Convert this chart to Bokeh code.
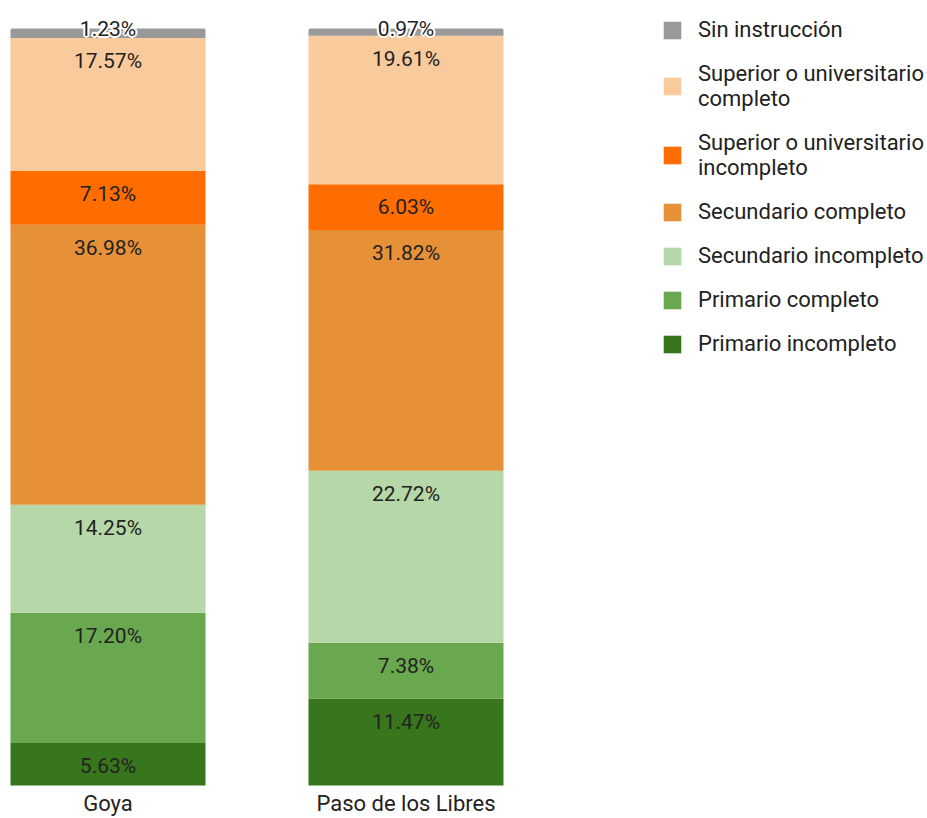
from bokeh.plotting import figure
from bokeh.models import ColumnDataSource, Range1d, Legend, LegendItem
from bokeh.core.properties import value
from bokeh.embed import file_html
from bokeh.resources import INLINE

# ---- data ----
categories = ["Goya", "Paso de los Libres"]
levels = ["Primario incompleto", "Primario completo", "Secundario incompleto",
          "Secundario completo", "Superior o universitario incompleto",
          "Superior o universitario completo", "Sin instrucción"]
legend_labels = ["Primario incompleto", "Primario completo", "Secundario incompleto",
                 "Secundario completo", "Superior o universitario\nincompleto",
                 "Superior o universitario\ncompleto", "Sin instrucción"]
goya = [5.63, 17.20, 14.25, 36.98, 7.13, 17.57, 1.23]
paso = [11.47, 7.38, 22.72, 31.82, 6.03, 19.61, 0.97]
colors = ["#38761D", "#6AA84F", "#B6D7A8", "#E69138", "#FF6D01", "#F9CB9C", "#999999"]

FONT = "Roboto"
TXT = "#222222"
xpos = list(range(len(categories)))

data = {"x": xpos}
for lv, g, pv in zip(levels, goya, paso):
    data[lv] = [g, pv]
src = ColumnDataSource(data)

p = figure(width=927, height=818, output_backend="svg", toolbar_location=None,
           x_range=Range1d(-0.3607, 2.7500), y_range=Range1d(-4.359, 103.699),
           x_axis_location=None, y_axis_location=None, min_border=0,
           outline_line_color=None)
p.grid.visible = False

renderers = p.vbar_stack(levels, x="x", width=0.6544, color=colors, source=src,
                         line_color=None)
# slightly rounded top corners on the topmost segment
renderers[-1].glyph.border_radius = (2, 2, 0, 0)

# segment labels
lx, ly, lt, sx, sy, st = [], [], [], [], [], []
for i, vals in enumerate([goya, paso]):
    cum = 0.0
    for j, v in enumerate(vals):
        cum += v
        if j < len(vals) - 1:
            lx.append(xpos[i]); ly.append(cum); lt.append(f"{v:.2f}%")
        else:
            sx.append(xpos[i]); sy.append(cum); st.append(f"{v:.2f}%")

p.text(x=lx, y=ly, text=lt, y_offset=23, text_align="center", text_baseline="middle",
       text_font=value(FONT), text_font_size="21px", text_color=TXT)

# white halo behind the small top labels
for dx, dy in [(-2, 0), (2, 0), (0, -2), (0, 2), (-1.5, -1.5), (1.5, -1.5),
               (-1.5, 1.5), (1.5, 1.5)]:
    p.text(x=sx, y=sy, text=st, x_offset=dx, y_offset=dy, text_align="center",
           text_baseline="middle", text_font=value(FONT), text_font_size="21px",
           text_color="white")
p.text(x=sx, y=sy, text=st, y_offset=0, text_align="center", text_baseline="middle",
       text_font=value(FONT), text_font_size="21px", text_color=TXT)

# category labels
p.text(x=xpos, y=[0, 0], text=categories, y_offset=18, text_align="center",
       text_baseline="middle", text_font=value(FONT), text_font_size="22px",
       text_color=TXT)

items = [LegendItem(label=lab, renderers=[r]) for lab, r in zip(legend_labels, renderers)]
items = items[::-1]
legend = Legend(items=items, location=(661, 462), padding=0, margin=0,
                border_line_color=None, background_fill_alpha=0,
                glyph_width=22, glyph_height=22, label_standoff=15,
                label_text_font=FONT, label_text_font_size="22px",
                label_text_color=TXT, spacing=19, label_height=22)
p.add_layout(legend)

open("out.html", "w").write(file_html(p, INLINE))
